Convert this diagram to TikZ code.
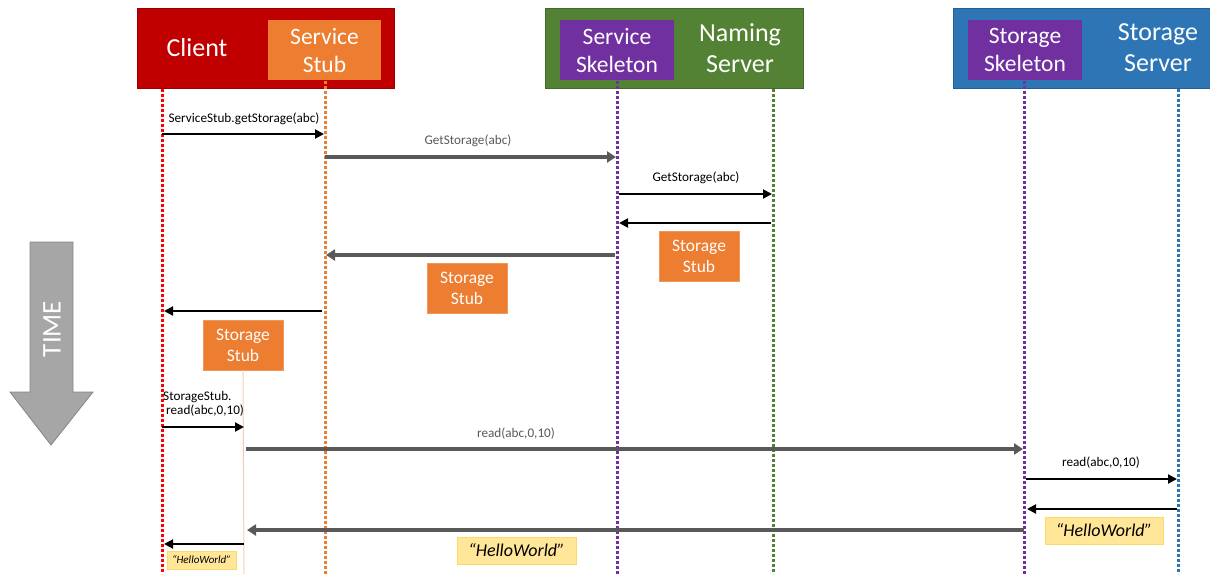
\documentclass[tikz,border=0pt]{standalone}
\usepackage{fontspec}
\setmainfont{Carlito}
\usetikzlibrary{arrows.meta}
\definecolor{cred}{HTML}{C00000}
\definecolor{corange}{HTML}{ED7D31}
\definecolor{cgreen}{HTML}{548235}
\definecolor{cpurple}{HTML}{7030A0}
\definecolor{cblue}{HTML}{2E75B6}
\definecolor{cgray}{HTML}{595959}
\definecolor{cyellow}{HTML}{FFE699}
\definecolor{cyellowb}{HTML}{FFD966}
\definecolor{ctime}{HTML}{A6A6A6}
\definecolor{clight}{HTML}{F8CBAD}
\tikzset{
  outerbox/.style={draw=#1!80!black, line width=0.8pt, fill=#1, inner sep=0pt},
  innerbox/.style={fill=#1, inner sep=0pt, text=white, font=\fontsize{23.5}{28}\selectfont, align=center},
  titletext/.style={text=white, font=\fontsize{26}{31}\selectfont, align=center},
  life/.style={draw=#1, line width=3pt, dash pattern=on 2.5pt off 2.5pt},
  blackarrow/.style={draw=black, line width=2pt, -{Triangle[length=9pt,width=9pt]}},
  grayarrow/.style={draw=cgray, line width=3.5pt, -{Triangle[length=9pt,width=11pt]}},
  blabel/.style={font=\fontsize{13.2}{15.5}\selectfont, text=black, inner sep=0pt},
  glabel/.style={font=\fontsize{13.2}{15.5}\selectfont, text=cgray, inner sep=0pt},
  stubbox/.style={fill=corange, draw=corange!80!white, text=white, minimum width=80pt, minimum height=50pt, inner sep=0pt, align=center, font=\fontsize{17.5}{21}\selectfont},
  hwbox/.style={fill=cyellow, draw=cyellowb, line width=1pt, inner sep=0pt, font=\itshape\fontsize{#1}{#1}\selectfont},
}
\begin{document}
\begin{tikzpicture}[x=1pt,y=-1pt]
\useasboundingbox (0,0) rectangle (1210,574);
% header boxes
\node[outerbox=cred, minimum width=257pt, minimum height=80pt] (clientbox) at (265.5,48) {};
\node[innerbox=corange, minimum width=113pt, minimum height=60pt] (sstub) at (324.5,50) {Service\\Stub};
\node[titletext] (clienttxt) at (197,48) {Client};

\node[outerbox=cgreen, minimum width=258pt, minimum height=80pt] (namingbox) at (674,48) {};
\node[innerbox=cpurple, minimum width=114pt, minimum height=60pt] (sskel) at (617,50) {Service\\Skeleton};
\node[titletext] (namingtxt) at (740,48) {Naming\\Server};

\node[outerbox=cblue, minimum width=258pt, minimum height=80pt] (storagebox) at (1082,48) {};
\node[innerbox=cpurple, minimum width=114pt, minimum height=60pt] (stskel) at (1025,50) {Storage\\Skeleton};
\node[titletext] (storagetxt) at (1158,48) {Storage\\Server};

% lifeline coordinates
\coordinate (cl0) at (162,89);   \coordinate (cl1) at (162,574);
\coordinate (ss0) at (325,81);   \coordinate (ss1) at (325,574);
\coordinate (sk0) at (617,81);   \coordinate (sk1) at (617,574);
\coordinate (ns0) at (773,89);   \coordinate (ns1) at (773,574);
\coordinate (tk0) at (1024,81);  \coordinate (tk1) at (1024,574);
\coordinate (ts0) at (1178,89);  \coordinate (ts1) at (1178,574);
\draw[life=red] (cl0) -- (cl1);
\draw[life=corange] (ss0) -- (ss1);
\draw[life=cpurple] (sk0) -- (sk1);
\draw[life=cgreen] (ns0) -- (ns1);
\draw[life=cpurple] (tk0) -- (tk1);
\draw[life=cblue] (ts0) -- (ts1);

% TIME arrow
\draw[fill=ctime, draw=ctime!80!black, line width=0.8pt]
  (30,242) -- (73,242) -- (73,392) -- (93,392) -- (51,445) -- (10,392) -- (30,392) -- cycle;
\node[rotate=90, text=white, font=\fontsize{27}{30}\selectfont] (timetxt) at (52,329) {TIME};

% message 1
\coordinate (m1a) at (162,134); \coordinate (m1b) at (324,134);
\draw[blackarrow] (m1a) -- (m1b);
\node[blabel] (l1) at (244,119) {ServiceStub.getStorage(abc)};
% message 2
\coordinate (m2a) at (325,157); \coordinate (m2b) at (616,157);
\draw[grayarrow] (m2a) -- (m2b);
\node[glabel] (l2) at (468,141) {GetStorage(abc)};
% message 3
\coordinate (m3a) at (619,194); \coordinate (m3b) at (772,194);
\draw[blackarrow] (m3a) -- (m3b);
\node[blabel] (l3) at (696,178) {GetStorage(abc)};
% message 4
\coordinate (m4a) at (771,223); \coordinate (m4b) at (619,223);
\draw[blackarrow] (m4a) -- (m4b);
\node[stubbox] (stub1) at (699,256) {Storage\\Stub};
% message 5
\coordinate (m5a) at (615,255); \coordinate (m5b) at (326,255);
\draw[grayarrow] (m5a) -- (m5b);
\node[stubbox] (stub2) at (467,288) {Storage\\Stub};
% message 6
\coordinate (m6a) at (322,311); \coordinate (m6b) at (164,311);
\draw[blackarrow] (m6a) -- (m6b);
\node[stubbox] (stub3) at (243,345) {Storage\\Stub};
% storage stub lifeline
\coordinate (sb1) at (244,574);
\draw[clight, line width=1pt] (stub3.south) -- (sb1);
% message 7
\coordinate (m7a) at (162,427); \coordinate (m7b) at (244,427);
\draw[blackarrow] (m7a) -- (m7b);
\node[blabel, align=left, anchor=west] (l7) at (163,404) {StorageStub.\\[-1pt]\hspace{3pt}read(abc,0,10)};
% message 8
\coordinate (m8a) at (246,449); \coordinate (m8b) at (1023,449);
\draw[grayarrow] (m8a) -- (m8b);
\node[glabel] (l8) at (516,434) {read(abc,0,10)};
% message 9
\coordinate (m9a) at (1026,479); \coordinate (m9b) at (1177,479);
\draw[blackarrow] (m9a) -- (m9b);
\node[blabel] (l9) at (1101,463) {read(abc,0,10)};
% message 10
\coordinate (m10a) at (1177,509); \coordinate (m10b) at (1027,509);
\draw[blackarrow] (m10a) -- (m10b);
\node[hwbox=18, minimum width=118pt, minimum height=27pt] (hw1) at (1104,530.5) {``HelloWorld''};
% message 11
\coordinate (m11a) at (1024,530); \coordinate (m11b) at (247,530);
\draw[grayarrow] (m11a) -- (m11b);
\node[hwbox=18, minimum width=119pt, minimum height=27pt] (hw2) at (516.5,550.5) {``HelloWorld''};
% message 12
\coordinate (m12a) at (244,544); \coordinate (m12b) at (164,544);
\draw[blackarrow] (m12a) -- (m12b);
\node[hwbox=11, minimum width=69pt, minimum height=18pt] (hw3) at (201.5,560) {``HelloWorld''};
\end{tikzpicture}
\end{document}
